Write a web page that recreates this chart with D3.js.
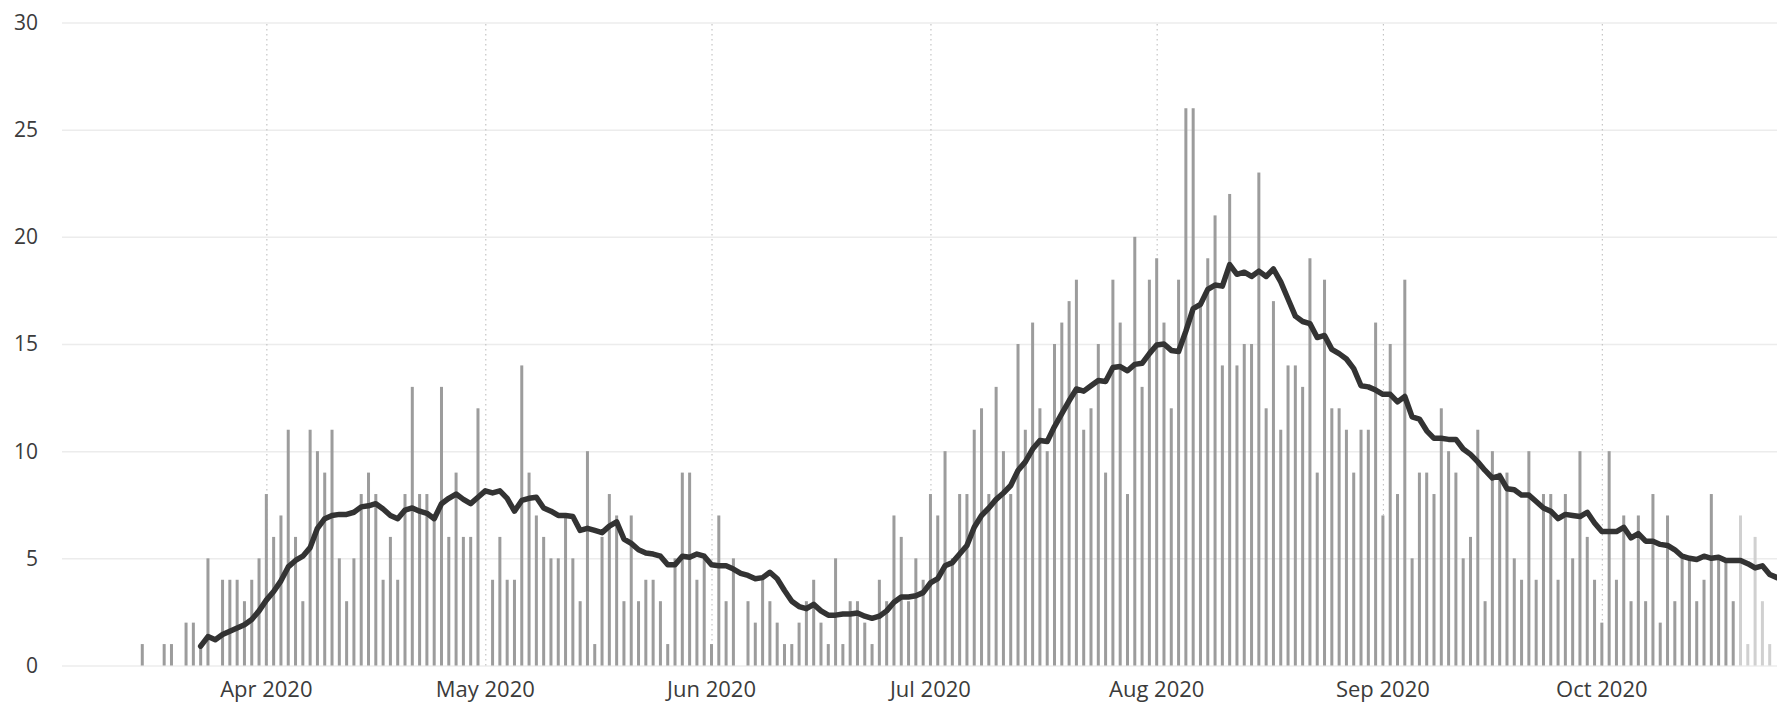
<!DOCTYPE html>
<head>
<meta charset="utf-8">
<script src="https://d3js.org/d3.v7.min.js"></script>
<style>
    body { margin: 0; background: #fff; }
    text {
        font-family: "Open Sans", "Noto Sans", sans-serif;
        fill: #3b3b3b;
    }
    .yLabel { font-size: 21px; }
    .xLabel { font-size: 22px; }
    .grid line { stroke: #ececec; stroke-width: 1.5px; }
    .grid path { stroke-width: 0; }
    .vgrid line { stroke: #c4c4c4; stroke-width: 1.2px; stroke-dasharray: 1.5, 3.5; }
    .vgrid path { stroke-width: 0; }
    .bar { fill: #9c9c9c; }
    .bar--recent { fill: #d0d0d0; }
    .avg {
        fill: none;
        stroke: #333;
        stroke-width: 5.5px;
        stroke-linejoin: round;
        stroke-linecap: round;
    }
</style>
</head>
<body>
<svg width="1777" height="702"></svg>
<script>
    // daily counts, one per day from firstDay
    var firstDay = "2020-03-15";
    var dailyCases = [
        1, 0, 0, 1, 1, 0, 2, 2, 1, 5,
        0, 4, 4, 4, 3, 4, 5, 8, 6, 7,
        11, 6, 3, 11, 10, 9, 11, 5, 3, 5,
        8, 9, 8, 4, 6, 4, 8, 13, 8, 8,
        7, 13, 6, 9, 6, 6, 12, 0, 4, 6,
        4, 4, 14, 9, 7, 6, 5, 5, 7, 5,
        3, 10, 1, 6, 8, 7, 3, 7, 3, 4,
        4, 3, 1, 5, 9, 9, 4, 5, 1, 7,
        3, 5, 0, 3, 2, 4, 3, 2, 1, 1,
        2, 3, 4, 2, 1, 5, 1, 3, 3, 2,
        1, 4, 3, 7, 6, 3, 5, 4, 8, 7,
        10, 5, 8, 8, 11, 12, 8, 13, 10, 8,
        15, 11, 16, 12, 10, 15, 16, 17, 18, 11,
        12, 15, 9, 18, 16, 8, 20, 13, 18, 19,
        16, 12, 18, 26, 26, 17, 19, 21, 14, 22,
        14, 15, 15, 23, 12, 17, 11, 14, 14, 13,
        19, 9, 18, 12, 12, 11, 9, 11, 11, 16,
        7, 15, 8, 18, 5, 9, 9, 8, 12, 10,
        9, 5, 6, 11, 3, 10, 9, 9, 5, 4,
        10, 4, 8, 8, 4, 8, 5, 10, 6, 4,
        2, 10, 4, 7, 3, 7, 3, 8, 2, 7,
        3, 5, 5, 3, 4, 8, 5, 5, 3, 7,
        1, 6, 3, 1
    ];
    // the last few days are still provisional (lighter bars)
    var provisionalDays = 5;

    // rolling average line, one per day from avgFirstDay
    var avgFirstDay = "2020-03-23";
    var rollingAvg = [
        0.9, 1.35, 1.2, 1.45, 1.6, 1.75, 1.9, 2.15, 2.55, 3.05,
        3.45, 3.95, 4.6, 4.9, 5.1, 5.5, 6.4, 6.85, 7.0, 7.05,
        7.05, 7.15, 7.4, 7.45, 7.55, 7.3, 7.0, 6.85, 7.25, 7.35,
        7.2, 7.1, 6.85, 7.55, 7.8, 8.0, 7.75, 7.55, 7.85, 8.15,
        8.05, 8.15, 7.8, 7.2, 7.7, 7.8, 7.85, 7.35, 7.2, 7.0,
        7.0, 6.95, 6.3, 6.4, 6.3, 6.2, 6.5, 6.7, 5.9, 5.7,
        5.4, 5.25, 5.2, 5.1, 4.7, 4.7, 5.1, 5.05, 5.2, 5.1,
        4.7, 4.65, 4.65, 4.5, 4.3, 4.2, 4.05, 4.1, 4.35, 4.05,
        3.5, 3.0, 2.75, 2.65, 2.85, 2.55, 2.35, 2.35, 2.4, 2.4,
        2.45, 2.3, 2.2, 2.3, 2.55, 2.95, 3.2, 3.2, 3.25, 3.4,
        3.85, 4.05, 4.65, 4.8, 5.2, 5.6, 6.45, 7.0, 7.35, 7.75,
        8.05, 8.4, 9.1, 9.5, 10.1, 10.5, 10.45, 11.15, 11.75, 12.35,
        12.9, 12.8, 13.05, 13.3, 13.25, 13.9, 13.95, 13.75, 14.05, 14.1,
        14.55, 14.95, 15.0, 14.7, 14.65, 15.6, 16.65, 16.85, 17.55, 17.75,
        17.7, 18.7, 18.25, 18.35, 18.15, 18.4, 18.15, 18.5, 17.9, 17.1,
        16.3, 16.05, 15.95, 15.3, 15.4, 14.75, 14.55, 14.3, 13.85, 13.05,
        13.0, 12.85, 12.65, 12.65, 12.3, 12.55, 11.6, 11.5, 10.95, 10.6,
        10.6, 10.55, 10.55, 10.1, 9.85, 9.5, 9.1, 8.75, 8.85, 8.25,
        8.2, 7.95, 7.95, 7.65, 7.35, 7.2, 6.85, 7.05, 7.0, 6.95,
        7.15, 6.65, 6.25, 6.25, 6.25, 6.45, 5.95, 6.15, 5.8, 5.8,
        5.65, 5.6, 5.4, 5.1, 5.0, 4.95, 5.1, 5.0, 5.05, 4.9,
        4.9, 4.9, 4.75, 4.55, 4.65, 4.25, 4.1
    ];

    var yTicks = [0, 5, 10, 15, 20, 25, 30];
    var monthTicks = ["2020-04-01", "2020-05-01", "2020-06-01", "2020-07-01",
                      "2020-08-01", "2020-09-01", "2020-10-01"];
    var xDomain = ["2020-03-04", "2020-10-25"];

    var parse = d3.timeParse("%Y-%m-%d");

    var svg = d3.select("svg"),
        plot = {left: 62, right: 1777, top: 22.5, bottom: 665.5};

    var x = d3.scaleTime()
        .domain(xDomain.map(parse))
        .range([plot.left, plot.right]);

    var y = d3.scaleLinear()
        .domain([0, 30])
        .range([plot.bottom, plot.top]);

    var day0 = parse(firstDay),
        avg0 = parse(avgFirstDay);

    var bars = dailyCases.map(function(v, i) {
        return {date: d3.timeDay.offset(day0, i), value: v,
                recent: i >= dailyCases.length - provisionalDays};
    });
    var avgPoints = rollingAvg.map(function(v, i) {
        return {date: d3.timeDay.offset(avg0, i), value: v};
    });

    // horizontal grid
    svg.append("g")
        .attr("class", "grid")
        .attr("transform", "translate(" + plot.left + ",0)")
        .call(d3.axisRight(y)
            .tickValues(yTicks)
            .tickSize(plot.right - plot.left)
            .tickFormat(""));

    // dotted month lines
    svg.append("g")
        .attr("class", "vgrid")
        .attr("transform", "translate(0," + plot.bottom + ")")
        .call(d3.axisTop(x)
            .tickValues(monthTicks.map(parse))
            .tickSize(plot.bottom - plot.top)
            .tickFormat(""));

    // y labels
    svg.append("g")
        .selectAll("text")
        .data(yTicks)
        .enter().append("text")
        .attr("class", "yLabel")
        .attr("x", 38)
        .attr("y", function(d) { return y(d); })
        .attr("dy", "0.35em")
        .style("text-anchor", "end")
        .text(function(d) { return d; });

    // x labels
    var fmt = d3.timeFormat("%b %Y");
    svg.append("g")
        .selectAll("text")
        .data(monthTicks.map(parse))
        .enter().append("text")
        .attr("class", "xLabel")
        .attr("x", function(d) { return x(d); })
        .attr("y", 689)
        .attr("dy", "0.35em")
        .style("text-anchor", "middle")
        .text(function(d) { return fmt(d); });

    // bars
    var barW = 3;
    svg.append("g")
        .selectAll("rect")
        .data(bars.filter(function(d) { return d.value > 0; }))
        .enter().append("rect")
        .attr("class", function(d) { return d.recent ? "bar bar--recent" : "bar"; })
        .attr("x", function(d) { return x(d.date) - barW / 2; })
        .attr("width", barW)
        .attr("y", function(d) { return y(d.value); })
        .attr("height", function(d) { return y(0) - y(d.value); });

    // rolling average
    var line = d3.line()
        .x(function(d) { return x(d.date); })
        .y(function(d) { return y(d.value); });

    svg.append("path")
        .datum(avgPoints)
        .attr("class", "avg")
        .attr("d", line);
</script>
</body>
